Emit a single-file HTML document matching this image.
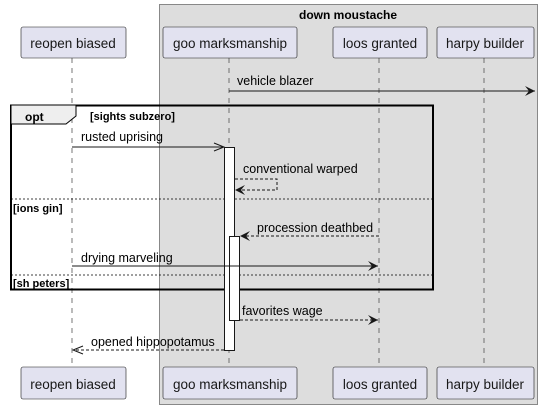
<!DOCTYPE html>
<html><head><meta charset="utf-8"><style>body{margin:0;background:#fff}svg{display:block}text{font-family:"Liberation Sans",sans-serif}</style></head><body>
<svg width="540" height="409" viewBox="0 0 540 409" xmlns="http://www.w3.org/2000/svg">
<defs>
<marker id="f" viewBox="0 0 10 10" refX="10" refY="5" markerWidth="12" markerHeight="10" orient="auto" markerUnits="userSpaceOnUse"><path d="M0,0 L10,5 L0,10 L4,5 Z" fill="#181818"/></marker>
<marker id="o" viewBox="0 0 10 10" refX="10" refY="5" markerWidth="12" markerHeight="10" orient="auto" markerUnits="userSpaceOnUse"><path d="M0,1 L10,5 L0,9" fill="none" stroke="#181818" stroke-width="1"/></marker>
</defs>
<rect x="159.5" y="4.5" width="378" height="400" fill="#ddd" stroke="#888"/>
<text x="348" y="19" font-size="12" font-weight="bold" text-anchor="middle">down moustache</text>
<g stroke="#555" stroke-dasharray="5,5" stroke-width="0.8">
<line x1="72" y1="58" x2="72" y2="367"/><line x1="229" y1="58" x2="229" y2="367"/><line x1="379" y1="58" x2="379" y2="367"/><line x1="484" y1="58" x2="484" y2="367"/></g>
<g fill="#e2e2f0" stroke="#181818" stroke-width="0.6">
<rect x="21" y="27" width="105" height="31" rx="2"/><rect x="163" y="27" width="134" height="31" rx="2"/><rect x="333" y="27" width="94" height="31" rx="2"/><rect x="437" y="27" width="97" height="31" rx="2"/>
<rect x="21" y="367" width="105" height="32" rx="2"/><rect x="163" y="367" width="134" height="32" rx="2"/><rect x="333" y="367" width="94" height="32" rx="2"/><rect x="437" y="367" width="97" height="32" rx="2"/></g>
<g font-size="13.5" text-anchor="middle" fill="#181818">
<text x="73" y="48">reopen biased</text><text x="230" y="48">goo marksmanship</text><text x="380" y="48">loos granted</text><text x="485" y="48">harpy builder</text>
<text x="73" y="389">reopen biased</text><text x="230" y="389">goo marksmanship</text><text x="380" y="389">loos granted</text><text x="485" y="389">harpy builder</text></g>
<line x1="229" y1="91" x2="535" y2="91" stroke="#181818" marker-end="url(#f)"/>
<text x="237" y="85" font-size="12.5">vehicle blazer</text>
<rect x="11" y="105.5" width="422" height="184" fill="none" stroke="#000" stroke-width="2"/>
<path d="M11,105 L76,105 L76,116 L66,124 L11,124 Z" fill="#eee" stroke="#000" stroke-width="1"/>
<text x="25" y="121" font-size="12" font-weight="bold">opt</text>
<text x="90" y="120" font-size="11" font-weight="bold">[sights subzero]</text>
<line x1="11" y1="199" x2="433" y2="199" stroke="#000" stroke-dasharray="2,2" stroke-width="0.8"/>
<text x="13" y="212" font-size="11" font-weight="bold">[ions gin]</text>
<line x1="11" y1="275" x2="433" y2="275" stroke="#000" stroke-dasharray="2,2" stroke-width="0.8"/>
<text x="13" y="287" font-size="11" font-weight="bold">[sh peters]</text>
<rect x="224.5" y="147.5" width="10" height="203" fill="#fff" stroke="#181818"/>
<rect x="229.5" y="236.5" width="10" height="84" fill="#fff" stroke="#181818"/>
<line x1="72" y1="147" x2="224" y2="147" stroke="#181818" marker-end="url(#o)"/>
<text x="81" y="141" font-size="12.5">rusted uprising</text>
<path d="M235,179 L277,179 L277,190 L235,190" fill="none" stroke="#181818" stroke-dasharray="3,2" marker-end="url(#f)"/>
<text x="243" y="173" font-size="12.5">conventional warped</text>
<line x1="379" y1="236" x2="240" y2="236" stroke="#181818" stroke-dasharray="3,2" marker-end="url(#f)"/>
<text x="257" y="232" font-size="12.5">procession deathbed</text>
<line x1="72" y1="266" x2="378" y2="266" stroke="#181818" marker-end="url(#f)"/>
<text x="81" y="262" font-size="12.5">drying marveling</text>
<line x1="240" y1="320" x2="378" y2="320" stroke="#181818" stroke-dasharray="3,2" marker-end="url(#f)"/>
<text x="242" y="315" font-size="12.5">favorites wage</text>
<line x1="224" y1="350" x2="73" y2="350" stroke="#181818" stroke-dasharray="3,2" marker-end="url(#o)"/>
<text x="91" y="346" font-size="12.5">opened hippopotamus</text>
</svg>
</body></html>
